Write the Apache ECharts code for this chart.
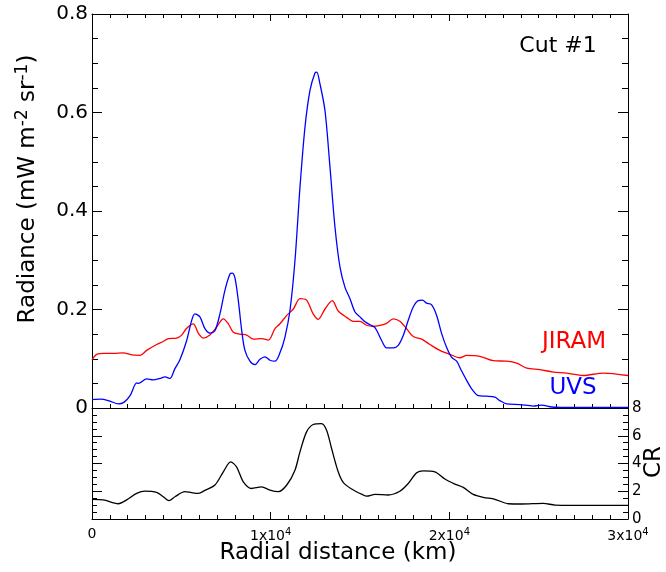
<!DOCTYPE html>
<html><head><meta charset="utf-8">
<script src="https://cdn.jsdelivr.net/npm/echarts@6/dist/echarts.min.js"></script>
<style>html,body{margin:0;padding:0;background:#fff}#c{width:666px;height:572px}</style>
</head><body><div id="c"></div>
<script>
// Radial distance (km) and radiance (mW m-2 sr-1)
const uvsDist = [0,500,1000,1470,1800,2130,2500,2590,3060,3430,3800,4090,4360,4640,4920,5300,5580,5760,6040,6320,6600,6880,7160,7440,7720,7850,8000,8190,8380,8560,8840,9120,9400,9680,9960,10240,10520,10800,11080,11360,11640,11920,12200,12480,12580,12760,13040,13320,13600,13880,14160,14440,14720,15000,15280,15560,15840,16210,16490,16860,17140,17420,17700,17980,18260,18500,18720,19000,19290,19570,19850,20130,20410,20690,20970,21250,21620,22090,22550,22830,23200,23950,24700,25170,25730,26500,30000];
const uvsVal = [0.017,0.018,0.014,0.0085,0.012,0.025,0.051,0.05,0.059,0.057,0.060,0.063,0.060,0.080,0.098,0.137,0.178,0.191,0.185,0.161,0.152,0.157,0.191,0.239,0.272,0.274,0.264,0.218,0.157,0.117,0.095,0.088,0.099,0.104,0.097,0.095,0.112,0.144,0.198,0.299,0.448,0.570,0.645,0.680,0.682,0.658,0.604,0.489,0.367,0.286,0.245,0.222,0.195,0.185,0.175,0.169,0.163,0.137,0.122,0.122,0.127,0.147,0.178,0.205,0.218,0.219,0.213,0.210,0.188,0.151,0.123,0.103,0.095,0.075,0.056,0.039,0.025,0.024,0.022,0.015,0.0085,0.007,0.004,0.006,0.002,0.001,0.001];
const jiramDist = [0,260,630,1190,1750,2220,2690,3060,3620,3990,4270,4740,5020,5300,5670,5950,6230,6600,6970,7350,7630,7910,8280,8660,9030,9500,9870,10240,10520,10900,11270,11640,12010,12380,12660,13040,13450,13780,14250,14620,15000,15370,15740,16120,16490,16860,17230,17610,17980,18450,18910,19470,20030,20590,20970,21710,22460,23210,23770,24330,25070,25820,26570,27490,28610,30000];
const jiramVal = [0.098,0.109,0.111,0.111,0.112,0.108,0.107,0.117,0.129,0.135,0.141,0.142,0.148,0.162,0.171,0.152,0.142,0.148,0.164,0.181,0.171,0.154,0.150,0.148,0.140,0.141,0.138,0.161,0.171,0.188,0.201,0.222,0.219,0.191,0.180,0.201,0.218,0.197,0.184,0.176,0.176,0.168,0.166,0.168,0.172,0.181,0.176,0.161,0.145,0.140,0.129,0.117,0.109,0.102,0.107,0.105,0.096,0.095,0.091,0.081,0.078,0.073,0.071,0.066,0.071,0.066];
// Colour ratio CR
const crDist = [0,630,1470,1940,2500,2970,3620,3990,4310,4640,5200,5570,5950,6320,6880,7350,7760,8090,8470,8930,9490,9960,10430,10900,11360,11640,12010,12380,12850,13130,13410,13780,14060,14530,15180,15370,15840,16580,17230,17700,18170,18540,19190,19750,20310,20780,21340,21900,22550,23300,24050,25260,25920,26850,30000];
const crVal = [1.42,1.38,1.10,1.38,1.85,2.01,1.92,1.60,1.32,1.60,1.97,1.90,1.85,2.06,2.45,3.40,4.12,3.76,2.68,2.20,2.32,2.08,1.97,2.45,3.52,4.84,6.28,6.81,6.88,6.40,5.08,3.40,2.64,2.16,1.73,1.65,1.77,1.73,2.00,2.56,3.33,3.47,3.40,2.88,2.52,2.28,1.77,1.56,1.42,1.10,1.08,1.13,1.00,0.98,0.98];
const xTicks = ['0','1x10{s|4}','2x10{s|4}','3x10{s|4}'];
const radianceTicks = [0, 0.2, 0.4, 0.6, 0.8];
const crTicks = [0, 2, 4, 6, 8];

const zip = (a, b) => a.map((v, i) => [v, b[i]]);
const F = 'DejaVu Sans';
const black = '#000';
const axLine = {show: true, onZero: false, lineStyle: {color: black, width: 1}};
function xAx(grid, pos, labels) {
  return {type: 'value', gridIndex: grid, position: pos, min: 0, max: 30000, interval: 10000,
    axisLine: axLine, splitLine: {show: false},
    axisTick: {show: true, inside: true, length: 7, lineStyle: {color: black}},
    minorTick: {show: true, splitNumber: 10, length: 4, lineStyle: {color: black}},
    axisLabel: labels ? {show: true, color: black, fontFamily: F, fontSize: 14, margin: 8,
      formatter: v => xTicks[Math.round(v / 10000)],
      rich: {s: {fontSize: 10, fontFamily: F, color: black, verticalAlign: 'top', padding: [0, 0, 8, 0]}}} : {show: false}};
}
function yAx(grid, pos, max, interval, ticks, labels, fs, len, mlen) {
  return {type: 'value', gridIndex: grid, position: pos, min: 0, max: max, interval: interval,
    axisLine: axLine, splitLine: {show: false},
    axisTick: {show: true, inside: true, length: len, lineStyle: {color: black}},
    minorTick: {show: true, splitNumber: 4, length: mlen, lineStyle: {color: black}},
    axisLabel: labels ? {show: true, color: black, fontFamily: F, fontSize: fs, margin: 4,
      formatter: v => { const i = ticks.findIndex(t => Math.abs(t - v) < 1e-9); return i >= 0 ? String(ticks[i]) : ''; }} : {show: false}};
}
const chart = echarts.init(document.getElementById('c'), null, {renderer: 'canvas'});
chart.setOption({
  animation: false,
  backgroundColor: '#fff',
  grid: [
    {left: 92, top: 14, width: 536, height: 394},
    {left: 92, top: 408, width: 536, height: 111}
  ],
  xAxis: [xAx(0, 'bottom', false), xAx(0, 'top', false), xAx(1, 'bottom', true)],
  yAxis: [
    yAx(0, 'left', 0.8, 0.2, radianceTicks, true, 20, 10, 6),
    yAx(0, 'right', 0.8, 0.2, radianceTicks, false, 20, 10, 6),
    yAx(1, 'left', 8, 2, crTicks, false, 15, 10, 5),
    yAx(1, 'right', 8, 2, crTicks, true, 15, 10, 5)
  ],
  series: [
    {type: 'line', xAxisIndex: 0, yAxisIndex: 0, data: zip(jiramDist, jiramVal), showSymbol: false, smooth: 0.3, lineStyle: {color: '#ff0000', width: 1.3}, z: 3},
    {type: 'line', xAxisIndex: 0, yAxisIndex: 0, data: zip(uvsDist, uvsVal), showSymbol: false, smooth: 0.3, lineStyle: {color: '#0000ff', width: 1.3}, z: 4},
    {type: 'line', xAxisIndex: 2, yAxisIndex: 2, data: zip(crDist, crVal), showSymbol: false, smooth: 0.3, lineStyle: {color: '#000', width: 1.3}}
  ],
  graphic: [
    {type: 'text', x: 28, y: 189, rotation: Math.PI / 2, style: {text: 'Radiance (mW m{s|-2} sr{s|-1})', fontFamily: F, fontSize: 23, fill: black, align: 'center', verticalAlign: 'middle',
      rich: {s: {fontSize: 17, fontFamily: F, fill: black, verticalAlign: 'top', padding: [0, 0, 10, 0]}}}},
    {type: 'text', x: 338, y: 553, style: {text: 'Radial distance (km)', fontFamily: F, fontSize: 23, fill: black, align: 'center', verticalAlign: 'middle'}},
    {type: 'text', x: 558, y: 46, style: {text: 'Cut #1', fontFamily: F, fontSize: 22, fill: black, align: 'center', verticalAlign: 'middle'}},
    {type: 'text', x: 574, y: 342, style: {text: 'JIRAM', fontFamily: F, fontSize: 23, fill: '#ff0000', align: 'center', verticalAlign: 'middle'}},
    {type: 'text', x: 573, y: 388, style: {text: 'UVS', fontFamily: F, fontSize: 23, fill: '#0000ff', align: 'center', verticalAlign: 'middle'}},
    {type: 'text', x: 654, y: 462, rotation: Math.PI / 2, style: {text: 'CR', fontFamily: F, fontSize: 23, fill: black, align: 'center', verticalAlign: 'middle'}}
  ]
});
</script></body></html>
